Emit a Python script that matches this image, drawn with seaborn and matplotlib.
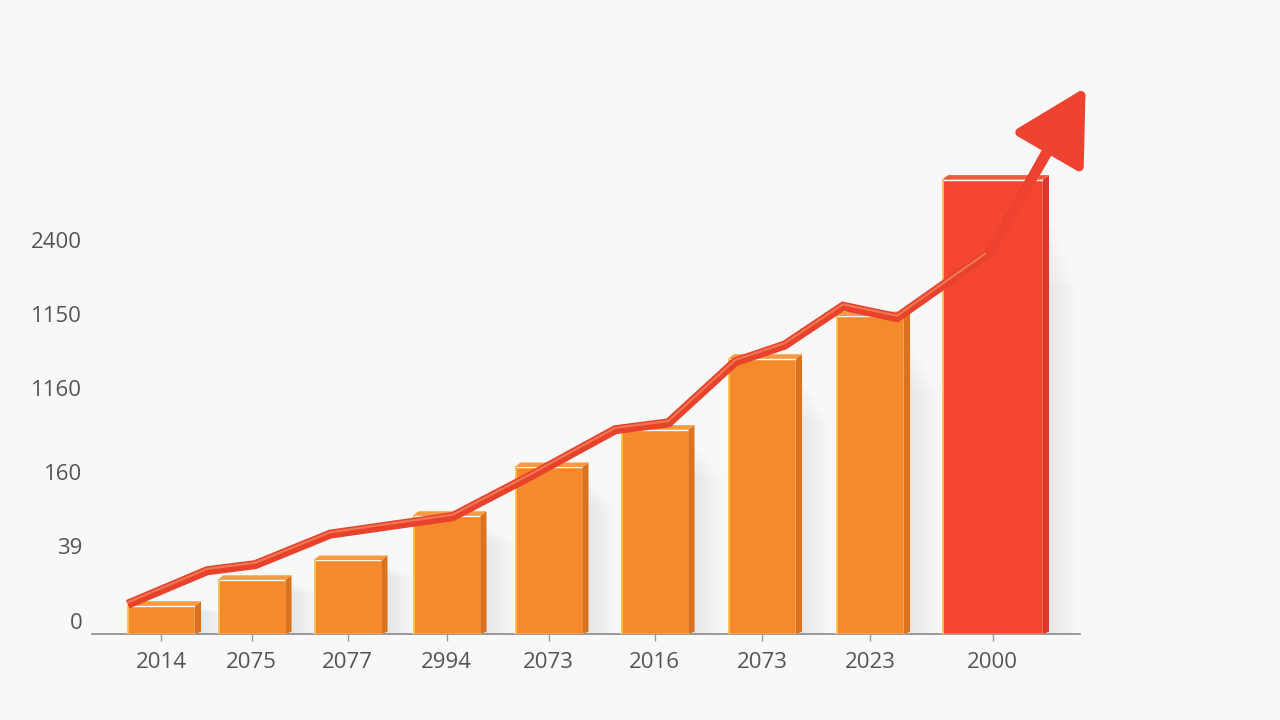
import numpy as np
import matplotlib
matplotlib.use('Agg')
import matplotlib.pyplot as plt
from matplotlib.patches import Polygon, Rectangle
import seaborn as sns

# ── Data ───────────────────────────────────────────────────────────────────────
x_labels   = ['2014', '2075', '2077', '2994', '2073', '2016', '2073', '2023', '2000']
bar_values = [0.37, 0.71, 0.97, 1.55, 2.19, 2.68, 3.61, 4.17, 5.96]
bar_colors = ['#F58A2C'] * 8 + ['#F44631']

y_tick_pos    = [0.17, 1.15, 2.13, 3.23, 4.20, 5.17]
y_tick_labels = ['0', '39', '160', '1160', '1150', '2400']

trend_x = [-0.37, 0.51, 1.04, 1.82, 3.06, 3.82, 4.63, 5.13, 5.75, 6.21, 6.75, 7.22, 7.98, 8.49]
trend_y = [0.39, 0.83, 0.91, 1.31, 1.54, 2.07, 2.68, 2.77, 3.57, 3.79, 4.30, 4.15, 5.01, 6.48]
arrow_tip = (8.76, 7.17)

# ── Layout: the bars sit in slightly perspective-widening slots ───────────────
SLOT_IDX = [-1, 0, 1, 2, 3, 4, 5, 6, 7, 8, 10]
SLOT_PX  = [71, 161, 251.5, 347.5, 446.5, 548.5, 654.5, 762, 870, 992.5, 1237.5]
BAR_HALF_PX = [34] * 8 + [50.5]

def fwd(v):
    return np.interp(v, SLOT_IDX, SLOT_PX)

def inv(v):
    return np.interp(v, SLOT_PX, SLOT_IDX)

# ── Style ──────────────────────────────────────────────────────────────────────
sns.set_theme(style='white')
plt.rcParams['font.family'] = ['Open Sans', 'DejaVu Sans']
BG = '#F8F8F8'

fig = plt.figure(figsize=(12.8, 7.2), dpi=100, facecolor=BG)
ax = fig.add_axes([92 / 1280, 86 / 720, 988 / 1280, 574 / 720])
ax.set_facecolor(BG)
ax.set_xscale('function', functions=(fwd, inv))

idx = np.arange(len(bar_values))
sns.barplot(x=idx, y=bar_values, hue=idx, palette=bar_colors, legend=False,
            width=0.65, saturation=1, ax=ax, zorder=3)

# resize bars in pixel-like units, add fake 3D faces and soft shadow
dpx, dy = 6, 0.06
for i, (p, col) in enumerate(zip(ax.patches[:len(bar_values)], bar_colors)):
    c = fwd(i)
    l_px, r_px = c - BAR_HALF_PX[i], c + BAR_HALF_PX[i]
    p.set_x(inv(l_px))
    p.set_width(inv(r_px) - inv(l_px))
    h = p.get_height()
    x0, x1, x2 = inv(l_px), inv(r_px), inv(r_px + dpx)
    dark = '#DB721D' if i < 8 else '#D9382B'
    for k in range(6):
        ax.add_patch(Rectangle((x1, 0), inv(r_px + 8 + 5 * k) - x1, h * (0.92 - 0.03 * k),
                               color='#000000', alpha=0.012, lw=0, zorder=1))
    ax.add_patch(Polygon([(x1, 0), (x2, dy * 0.5), (x2, h + dy), (x1, h)],
                         closed=True, color=dark, lw=0, zorder=3))
    ax.add_patch(Polygon([(x0, h), (inv(l_px + dpx), h + dy), (x2, h + dy), (x1, h)],
                         closed=True, color='#F79A42' if i < 8 else '#F45A3E', lw=0, zorder=3))
    ax.plot([inv(l_px + 1), inv(l_px + 1)], [0, h], color='#FFBE45', lw=1.3, zorder=4)

# trend line with arrow
ax.plot(trend_x, trend_y, color='#E8412C', lw=6.5, solid_joinstyle='miter',
        solid_capstyle='butt', zorder=5, clip_on=False)
ax.plot(trend_x, np.array(trend_y) + 0.025, color='#F07650', lw=1.6,
        solid_joinstyle='miter', zorder=6, clip_on=False)
ax.annotate('', xy=arrow_tip, xytext=(trend_x[-2], trend_y[-2]),
            arrowprops=dict(arrowstyle='-|>,head_length=1.0,head_width=0.55',
                            mutation_scale=45, color='#EE4330', lw=6.5,
                            shrinkA=0, shrinkB=0),
            annotation_clip=False, zorder=7)

# axes
ax.set_xlim(inv(92), inv(1080))
ax.set_ylim(0, 7.53)
ax.set_xticks(idx)
ax.set_xticklabels(x_labels)
ax.xaxis.set_minor_locator(matplotlib.ticker.NullLocator())
ax.set_yticks(y_tick_pos)
ax.set_yticklabels(y_tick_labels)
ax.tick_params(axis='x', length=5, width=1, color='#9A9A9A', pad=8,
               labelsize=16, labelcolor='#555555', bottom=True)
ax.tick_params(axis='y', length=0, pad=7, labelsize=16, labelcolor='#555555')
ax.set_xlabel('')
ax.set_ylabel('')
sns.despine(ax=ax, left=True, top=True, right=True)
ax.spines['bottom'].set_color('#8A8A8A')
ax.spines['bottom'].set_linewidth(1.2)
ax.grid(False)

fig.savefig('out.png', dpi=100, facecolor=BG)
